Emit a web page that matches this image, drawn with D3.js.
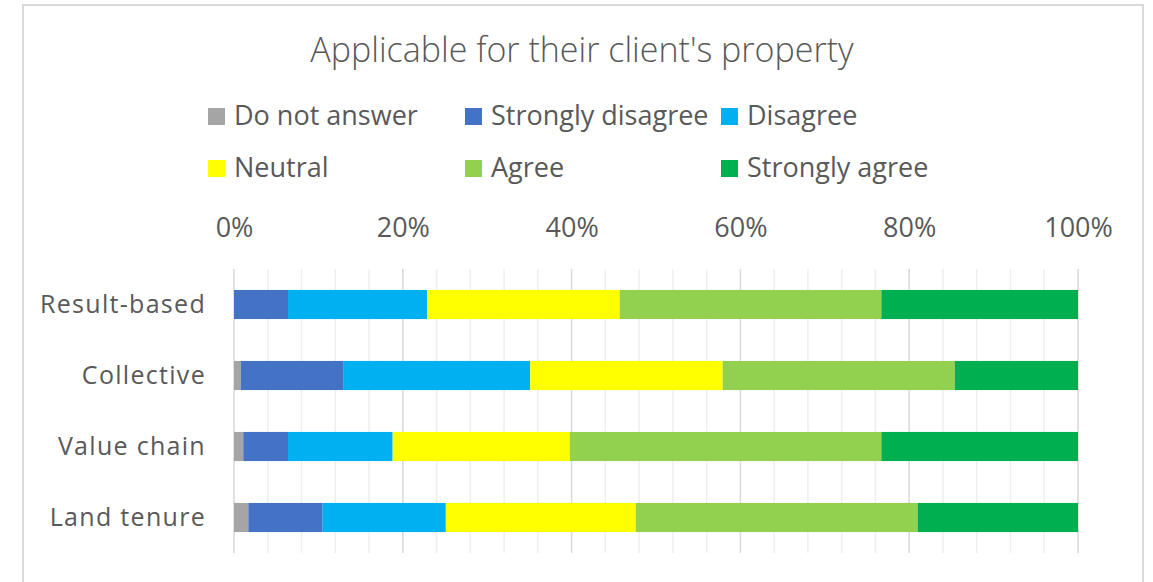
<!DOCTYPE html>
<html>
<head>
<meta charset="utf-8">
<script src="https://cdn.jsdelivr.net/npm/d3@7"></script>
<style>
  html, body { margin: 0; padding: 0; background: #fff; }
  svg text { font-family: "Open Sans", sans-serif; fill: #595959; }
</style>
</head>
<body>
<div id="chart"></div>
<script>
const width = 1153;
const height = 582;

// data (percent of answers)
const categories = ['Result-based', 'Collective', 'Value chain', 'Land tenure'];
const seriesNames = ['Do not answer', 'Strongly disagree', 'Disagree', 'Neutral', 'Agree', 'Strongly agree'];
const seriesColors = ['#a5a5a5', '#4472c4', '#00b0f0', '#ffff00', '#92d050', '#00b050'];
const doNotAnswer      = [0.0, 0.8, 1.1, 1.7];
const stronglyDisagree = [6.4, 12.2, 5.3, 8.8];
const disagree         = [16.5, 22.1, 12.4, 14.6];
const neutral          = [22.8, 22.8, 21.0, 22.5];
const agree            = [31.0, 27.5, 36.9, 33.4];
const stronglyAgree    = [23.3, 14.6, 23.3, 19.0];
const tickValues = [0, 20, 40, 60, 80, 100];

const seriesValues = [doNotAnswer, stronglyDisagree, disagree, neutral, agree, stronglyAgree];
const rows = categories.map((c, i) => {
  const r = {category: c};
  seriesNames.forEach((s, j) => r[s] = seriesValues[j][i]);
  return r;
});
const stacked = d3.stack().keys(seriesNames)(rows);

const svg = d3.select('#chart').append('svg')
  .attr('width', width)
  .attr('height', height);

// outer chart frame
svg.append('rect')
  .attr('x', 23).attr('y', 5)
  .attr('width', 1120).attr('height', 620)
  .attr('fill', '#fff')
  .attr('stroke', '#d9d9d9')
  .attr('stroke-width', 2);

svg.append('text')
  .attr('x', 582).attr('y', 62)
  .attr('text-anchor', 'middle')
  .style('font-size', '34px')
  .style('font-weight', 300)
  .text("Applicable for their client's property");

const x = d3.scaleLinear().domain([0, 100]).range([234, 1078]);
const y = d3.scaleBand().domain(categories).range([269, 553])
  .paddingInner(0.59).paddingOuter(0.295);

// gridlines: minor every 4%, major every 20%
const grid = svg.append('g');
grid.selectAll('line.minor')
  .data(d3.range(0, 101, 4).filter(v => v % 20 !== 0))
  .enter().append('line')
  .attr('class', 'minor')
  .attr('x1', d => x(d)).attr('x2', d => x(d))
  .attr('y1', 269).attr('y2', 553)
  .attr('stroke', '#efefef')
  .attr('stroke-width', 1.5);
grid.selectAll('line.major')
  .data(tickValues)
  .enter().append('line')
  .attr('class', 'major')
  .attr('x1', d => x(d)).attr('x2', d => x(d))
  .attr('y1', 269).attr('y2', 553)
  .attr('stroke', '#d9d9d9')
  .attr('stroke-width', 1.5);

// top axis
const xAxis = d3.axisTop(x)
  .tickValues(tickValues)
  .tickFormat(d => d + '%')
  .tickSize(0)
  .tickPadding(0);
const axisG = svg.append('g')
  .attr('transform', 'translate(0,237)')
  .call(xAxis);
axisG.select('.domain').remove();
axisG.selectAll('text')
  .attr('dy', 0)
  .style('font-size', '27px')
  .style('fill', '#595959')
  .style('font-family', '"Open Sans", sans-serif');

// category axis
const yAxis = d3.axisLeft(y).tickSize(0).tickPadding(0);
const yG = svg.append('g')
  .attr('transform', 'translate(206,0)')
  .call(yAxis);
yG.select('.domain').remove();
yG.selectAll('text')
  .attr('dy', '0.35em')
  .style('font-size', '25px')
  .style('letter-spacing', '1.3px')
  .style('fill', '#595959')
  .style('font-family', '"Open Sans", sans-serif');

// bars
svg.append('g').selectAll('g')
  .data(stacked)
  .enter().append('g')
  .attr('fill', (d, i) => seriesColors[i])
  .selectAll('rect')
  .data(d => d)
  .enter().append('rect')
  .attr('x', d => x(d[0]))
  .attr('width', d => x(d[1]) - x(d[0]))
  .attr('y', d => y(d.data.category))
  .attr('height', y.bandwidth());

// legend, two rows of three
const legendX = [208, 465, 721];
const legendY = [116, 168];
const legend = svg.append('g').selectAll('g')
  .data(seriesNames)
  .enter().append('g')
  .attr('transform', (d, i) => `translate(${legendX[i % 3]},${legendY[Math.floor(i / 3)]})`);
legend.append('rect')
  .attr('x', 0).attr('y', -8)
  .attr('width', 17).attr('height', 17)
  .attr('fill', (d, i) => seriesColors[i]);
legend.append('text')
  .attr('x', 26).attr('y', 0)
  .attr('dy', '0.35em')
  .style('font-size', '27px')
  .text(d => d);
</script>
</body>
</html>
